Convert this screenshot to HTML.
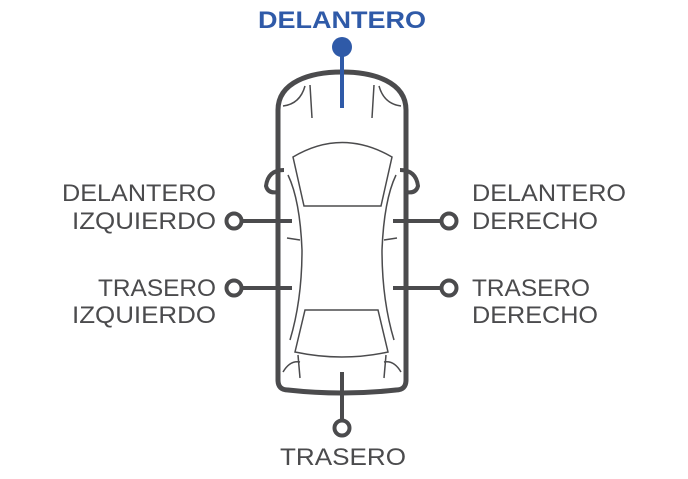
<!DOCTYPE html>
<html><head><style>html,body{margin:0;padding:0;background:#fff;}svg{display:block}</style></head>
<body>
<svg width="688" height="479" viewBox="0 0 688 479" xmlns="http://www.w3.org/2000/svg" font-family="Liberation Sans, sans-serif">
<g fill="#4b4b4d" font-size="24">
<text x="216" y="201" text-anchor="end" textLength="154" lengthAdjust="spacingAndGlyphs">DELANTERO</text>
<text x="216" y="229" text-anchor="end" textLength="144" lengthAdjust="spacingAndGlyphs">IZQUIERDO</text>
<text x="216" y="296" text-anchor="end" textLength="118" lengthAdjust="spacingAndGlyphs">TRASERO</text>
<text x="216" y="323" text-anchor="end" textLength="144" lengthAdjust="spacingAndGlyphs">IZQUIERDO</text>
<text x="472" y="201" textLength="154" lengthAdjust="spacingAndGlyphs">DELANTERO</text>
<text x="472" y="229" textLength="126" lengthAdjust="spacingAndGlyphs">DERECHO</text>
<text x="472" y="296" textLength="118" lengthAdjust="spacingAndGlyphs">TRASERO</text>
<text x="472" y="323" textLength="126" lengthAdjust="spacingAndGlyphs">DERECHO</text>
<text x="280" y="465" textLength="126" lengthAdjust="spacingAndGlyphs">TRASERO</text>
</g>
<text x="258" y="28" fill="#2f5aa8" font-size="24" font-weight="bold" textLength="168" lengthAdjust="spacingAndGlyphs">DELANTERO</text>

<g fill="none" stroke="#4b4b4d">
<path d="M278 110 C278 82 310 72 342 72 C374 72 406 82 406 110 L406 380 Q406 390 396 390 Q342 396 288 390 Q278 390 278 380 Z" stroke-width="5"/>
<path d="M284 170 Q268 170 266 186 Q268 194 278 192" stroke-width="4"/>
<path d="M400 170 Q416 170 418 186 Q416 194 406 192" stroke-width="4"/>
<g stroke-width="1.5">
<path d="M293 157 Q342 128 392 157 L381 206 L304 206 Z"/>
<path d="M305 310 L378 310 L388 352 Q342 362 295 352 Z"/>
<path d="M283 106 Q300 104 305 86 M310 85 L312 118"/>
<path d="M401 106 Q384 104 379 86 M374 85 L372 118"/>
<path d="M288 175 Q300 200 302 250 Q302 300 290 340"/>
<path d="M396 175 Q384 200 382 250 Q382 300 394 340"/>
<path d="M287 238 L300 240 M397 238 L384 240"/>
<path d="M283 372 Q290 360 300 362 M401 372 Q394 360 384 362"/>
<path d="M298 355 L300 378 M386 355 L384 378"/>
</g>
<g stroke-width="4">
<line x1="241" y1="221" x2="292" y2="221"/>
<line x1="241" y1="288" x2="292" y2="288"/>
<line x1="393" y1="221" x2="441" y2="221"/>
<line x1="393" y1="288" x2="441" y2="288"/>
<line x1="342" y1="372" x2="342" y2="420"/>
<circle cx="234" cy="221" r="7.5"/>
<circle cx="234" cy="288" r="7.5"/>
<circle cx="449" cy="221" r="7.5"/>
<circle cx="449" cy="288" r="7.5"/>
<circle cx="342" cy="428" r="7.5"/>
</g>
</g>
<line x1="342" y1="52" x2="342" y2="108" stroke="#2f5aa8" stroke-width="4"/>
<circle cx="342" cy="47" r="10" fill="#2f5aa8"/>
</svg>
</body></html>
